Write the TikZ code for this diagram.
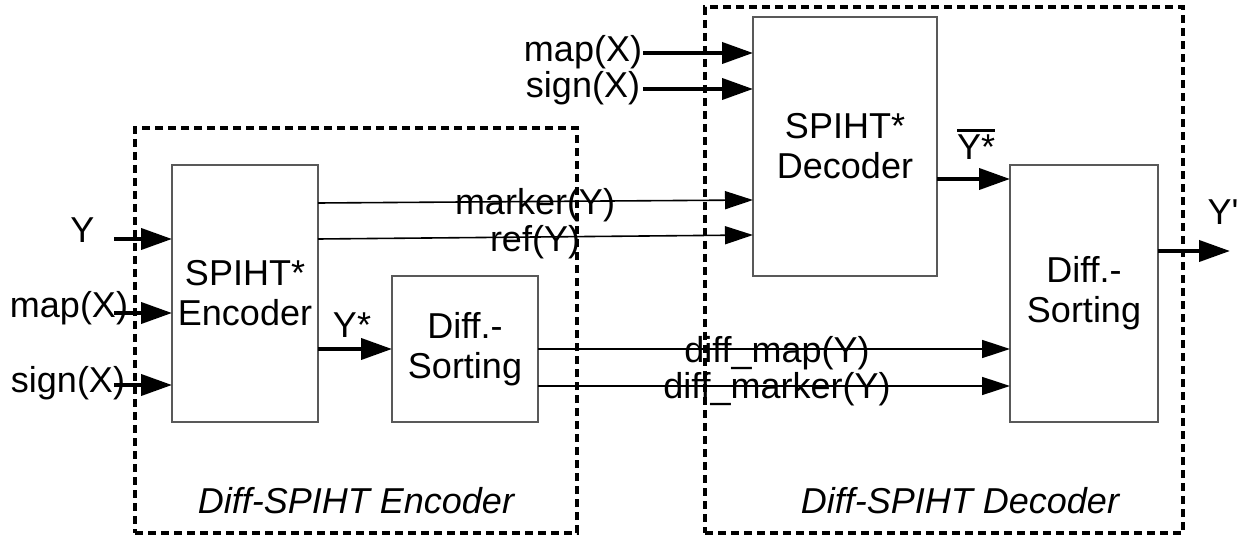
\documentclass[tikz,border=0pt]{standalone}
\usepackage{fontspec}
\setmainfont{Liberation Sans}
\usetikzlibrary{arrows.meta}
\newcommand\myovl[1]{\leavevmode\vbox{\hrule height 3.5pt depth 0pt\kern 3pt\hbox{#1}}}
\begin{document}
\begin{tikzpicture}[x=1pt,y=-1pt,
  every node/.style={font=\fontsize{36}{40}\selectfont, inner sep=0pt, outer sep=0pt},
  blk/.style={draw=black!65, line width=1.3pt, align=center},
  frame/.style={draw=black, line width=4pt, dash pattern=on 8pt off 5pt},
  thick arrow/.style={line width=4pt, -{Triangle[length=31pt,width=21pt]}},
  thin arrow/.style={line width=1.6pt, -{Triangle[length=28pt,width=18pt]}},
  lbl/.style={anchor=base}]
\useasboundingbox (0,0) rectangle (1247,537);
% frames
\node[frame, minimum width=442pt, minimum height=405pt] (encframe) at (356,330.5) {};
\node[frame, minimum width=478pt, minimum height=526pt] (decframe) at (944,270) {};
% blocks
\node[blk, minimum width=146pt, minimum height=257pt] (enc) at (245,293.5) {SPIHT*\\Encoder};
\node[blk, minimum width=146pt, minimum height=146pt] (dsE) at (465,349) {Diff.-\\Sorting};
\node[blk, minimum width=184pt, minimum height=259pt] (dec) at (845,146.5) {SPIHT*\\Decoder};
\node[blk, minimum width=148pt, minimum height=257pt] (dsD) at (1084,293.5) {Diff.-\\Sorting};
% frame labels
\node[lbl, font=\fontsize{36}{40}\selectfont\itshape] (encT) at (356,513) {Diff-SPIHT Encoder};
\node[lbl, font=\fontsize{36}{40}\selectfont\itshape] (decT) at (960,513) {Diff-SPIHT Decoder};
% coordinates
\coordinate (inY) at (114,239);
\coordinate (inM) at (114,313);
\coordinate (inS) at (114,385);
\coordinate (tM) at (643,53);
\coordinate (tS) at (643,89);
\coordinate (mkS) at (318,203);
\coordinate (mkE) at (753,200);
\coordinate (rfS) at (318,239);
\coordinate (rfE) at (753,235);
\coordinate (ys) at (0,349);
\coordinate (dm) at (0,349);
\coordinate (dk) at (0,386);
\coordinate (yb) at (0,179);
\coordinate (yo) at (0,251);
\coordinate (outY) at (1230,251);
% arrows
\draw[thick arrow] (inY) -- (inY -| enc.west);
\draw[thick arrow] (inM) -- (inM -| enc.west);
\draw[thick arrow] (inS) -- (inS -| enc.west);
\draw[thick arrow] (tM) -- (tM -| dec.west);
\draw[thick arrow] (tS) -- (tS -| dec.west);
\draw[thick arrow] (enc.east |- ys) -- (dsE.west |- ys);
\draw[thick arrow] (dec.east |- yb) -- (dsD.west |- yb);
\draw[thick arrow] (dsD.east |- yo) -- (outY);
\draw[thin arrow] (mkS) -- (mkE);
\draw[thin arrow] (rfS) -- (rfE);
\draw[thin arrow] (dsE.east |- dm) -- (dsD.west |- dm);
\draw[thin arrow] (dsE.east |- dk) -- (dsD.west |- dk);
% labels
\node[lbl] (lY) at (82.5,243) {Y};
\node[lbl] (lM) at (69,317) {map(X)};
\node[lbl] (lS) at (68,392) {sign(X)};
\node[lbl] (ltM) at (583,62) {map(X)};
\node[lbl] (ltS) at (583,98) {sign(X)};
\node[lbl] (lmk) at (535,215) {marker(Y)};
\node[lbl] (lrf) at (535,252) {ref(Y)};
\node[lbl] (ldm) at (777,362) {diff\_map(Y)};
\node[lbl] (ldk) at (777,398) {diff\_marker(Y)};
\node[lbl] (lys) at (352,337) {Y*};
\node[lbl] (lyb) at (976,160) {\myovl{Y*}};
\node[lbl] (lyo) at (1223,225) {Y\textquotesingle};
\end{tikzpicture}
\end{document}
